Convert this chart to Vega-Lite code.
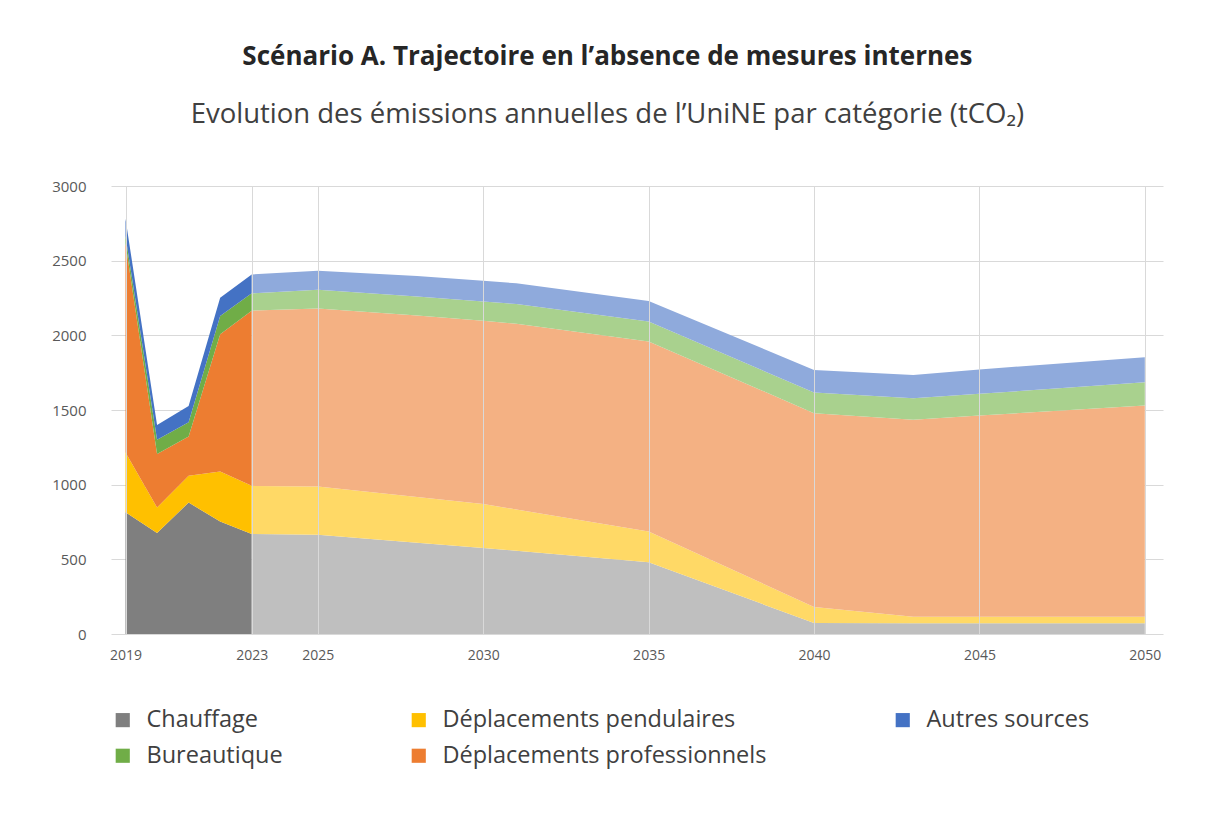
{
  "$schema": "https://vega.github.io/schema/vega-lite/v6.json",
  "width": 1052,
  "height": 448,
  "padding": {"left": 51, "top": 43, "right": 41, "bottom": 10},
  "background": "white",
  "title": {
    "text": "Scénario A. Trajectoire en l’absence de mesures internes",
    "subtitle": "Evolution des émissions annuelles de l’UniNE par catégorie (tCO₂)",
    "anchor": "middle",
    "frame": "bounds",
    "font": "Open Sans",
    "fontSize": 26,
    "fontWeight": "bold",
    "color": "#262626",
    "subtitleFont": "Open Sans",
    "subtitleFontSize": 27.5,
    "subtitleColor": "#404040",
    "subtitlePadding": 31,
    "offset": 51
  },
  "data": {
    "values": [
      {"periode": "Historique", "annee": 2019, "Chauffage": 815, "Déplacements pendulaires": 400, "Déplacements professionnels": 1400, "Bureautique": 50, "Autres sources": 115},
      {"periode": "Historique", "annee": 2020, "Chauffage": 676, "Déplacements pendulaires": 171, "Déplacements professionnels": 359, "Bureautique": 94, "Autres sources": 100},
      {"periode": "Historique", "annee": 2021, "Chauffage": 880, "Déplacements pendulaires": 179, "Déplacements professionnels": 263, "Bureautique": 96, "Autres sources": 109},
      {"periode": "Historique", "annee": 2022, "Chauffage": 753, "Déplacements pendulaires": 335, "Déplacements professionnels": 919, "Bureautique": 122, "Autres sources": 123},
      {"periode": "Historique", "annee": 2023, "Chauffage": 670, "Déplacements pendulaires": 322, "Déplacements professionnels": 1173, "Bureautique": 116, "Autres sources": 127},
      {"periode": "Projection", "annee": 2023, "Chauffage": 670, "Déplacements pendulaires": 322, "Déplacements professionnels": 1173, "Bureautique": 116, "Autres sources": 127},
      {"periode": "Projection", "annee": 2025, "Chauffage": 665, "Déplacements pendulaires": 322, "Déplacements professionnels": 1193, "Bureautique": 125, "Autres sources": 128},
      {"periode": "Projection", "annee": 2028, "Chauffage": 611, "Déplacements pendulaires": 306, "Déplacements professionnels": 1216, "Bureautique": 127, "Autres sources": 137},
      {"periode": "Projection", "annee": 2030, "Chauffage": 576, "Déplacements pendulaires": 294, "Déplacements professionnels": 1227, "Bureautique": 130, "Autres sources": 139},
      {"periode": "Projection", "annee": 2031, "Chauffage": 557, "Déplacements pendulaires": 277, "Déplacements professionnels": 1243, "Bureautique": 132, "Autres sources": 139},
      {"periode": "Projection", "annee": 2035, "Chauffage": 480, "Déplacements pendulaires": 207, "Déplacements professionnels": 1272, "Bureautique": 133, "Autres sources": 138},
      {"periode": "Projection", "annee": 2040, "Chauffage": 74, "Déplacements pendulaires": 107, "Déplacements professionnels": 1298, "Bureautique": 138, "Autres sources": 151},
      {"periode": "Projection", "annee": 2043, "Chauffage": 72, "Déplacements pendulaires": 44, "Déplacements professionnels": 1318, "Bureautique": 145, "Autres sources": 156},
      {"periode": "Projection", "annee": 2045, "Chauffage": 72, "Déplacements pendulaires": 44, "Déplacements professionnels": 1347, "Bureautique": 145, "Autres sources": 164},
      {"periode": "Projection", "annee": 2050, "Chauffage": 72, "Déplacements pendulaires": 44, "Déplacements professionnels": 1414, "Bureautique": 156, "Autres sources": 167}
    ]
  },
  "transform": [
    {"fold": ["Chauffage", "Déplacements pendulaires", "Déplacements professionnels", "Bureautique", "Autres sources"], "as": ["categorie", "valeur"]},
    {"calculate": "indexof(['Chauffage', 'Déplacements pendulaires', 'Déplacements professionnels', 'Bureautique', 'Autres sources'], datum.categorie)", "as": "ordre"}
  ],
  "encoding": {
    "x": {
      "field": "annee",
      "type": "quantitative",
      "scale": {"domain": [2018.54, 2023, 2050.55], "range": [0, 140.7, 1052], "nice": false, "zero": false},
      "axis": {
        "values": [2019, 2023, 2025, 2030, 2035, 2040, 2045, 2050],
        "format": "d",
        "title": null,
        "grid": true,
        "gridColor": "#d9d9d9",
        "gridWidth": 1,
        "domain": false,
        "ticks": false,
        "labelFont": "Open Sans",
        "labelFontSize": 14,
        "labelColor": "#595959",
        "labelPadding": 14,
        "labelFlush": false,
        "zindex": 1
      }
    },
    "y": {
      "field": "valeur",
      "type": "quantitative",
      "stack": "zero",
      "scale": {"domain": [0, 3000], "nice": false},
      "axis": {
        "values": [0, 500, 1000, 1500, 2000, 2500, 3000],
        "format": "d",
        "title": null,
        "grid": true,
        "gridColor": "#d9d9d9",
        "gridWidth": 1,
        "domain": false,
        "ticks": false,
        "labelFont": "Open Sans",
        "labelFontSize": 15,
        "labelColor": "#595959",
        "labelPadding": 25,
        "zindex": 0
      }
    },
    "order": {"field": "ordre", "type": "quantitative"}
  },
  "layer": [
    {
      "transform": [{"filter": "datum.periode === 'Historique'"}],
      "mark": {"type": "area", "interpolate": "linear"},
      "encoding": {
        "color": {
          "field": "categorie",
          "type": "nominal",
          "scale": {
            "domain": ["Chauffage", "Déplacements pendulaires", "Autres sources", "Bureautique", "Déplacements professionnels"],
            "range": ["#7F7F7F", "#FFC000", "#4472C4", "#70AD47", "#ED7D31"]
          },
          "legend": {
            "orient": "bottom",
            "direction": "horizontal",
            "columns": 3,
            "title": null,
            "labelFont": "Open Sans",
            "labelFontSize": 23.5,
            "labelColor": "#404040",
            "labelLimit": 0,
            "symbolType": "square",
            "symbolSize": 200,
            "symbolStrokeWidth": 0,
            "columnPadding": 124,
            "rowPadding": 11,
            "labelOffset": 12,
            "offset": 46
          }
        }
      }
    },
    {
      "transform": [{"filter": "datum.periode === 'Projection'"}],
      "mark": {"type": "area", "interpolate": "linear"},
      "encoding": {
        "color": {
          "field": "categorie",
          "type": "nominal",
          "scale": {
            "domain": ["Chauffage", "Déplacements pendulaires", "Autres sources", "Bureautique", "Déplacements professionnels"],
            "range": ["#BFBFBF", "#FFD966", "#8FAADC", "#A9D18E", "#F4B183"]
          },
          "legend": null
        }
      }
    }
  ],
  "resolve": {"scale": {"color": "independent"}},
  "config": {"view": {"stroke": null}}
}
